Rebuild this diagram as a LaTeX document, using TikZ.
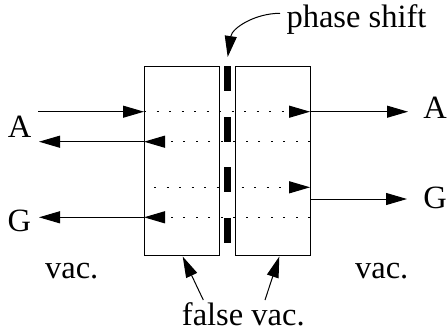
\documentclass[tikz,border=0pt]{standalone}
\usepackage{fontspec}
\setmainfont{Liberation Serif}
\usetikzlibrary{arrows.meta}
\begin{document}
\begin{tikzpicture}[x=1pt,y=-1pt,
  lbl/.style={inner sep=0pt,anchor=base,font=\fontsize{32.5}{32.5}\selectfont},
  slab/.style={draw,line width=1.1pt,minimum width=75.3pt,minimum height=189.3pt,inner sep=0pt,anchor=north west},
  barpiece/.style={fill=black,minimum width=7.4pt,minimum height=25pt,inner sep=0pt,anchor=north west},
  tip/.style={-{Triangle[length=21pt,width=12pt]}},
  solidln/.style={line width=1pt,tip},
  dotln/.style={line width=1.1pt,dash pattern=on 2pt off 10.5pt,tip}]
\useasboundingbox (0,0) rectangle (447,333);
% boxes
\node[slab] (L) at (144,66) {};
\node[slab] (R) at (234.8,66) {};
% phase shift bars
\node[barpiece] (b1) at (223.3,66) {};
\node[barpiece] (b2) at (223.3,117) {};
\node[barpiece] (b3) at (223.3,167) {};
\node[barpiece] (b4) at (223.3,217.5) {};
% labels
\node[lbl] (ps) at (356.5,27.3) {phase shift};
\node[lbl] (Al) at (19.5,137.3) {A};
\node[lbl] (Gl) at (19.3,231.7) {G};
\node[lbl] (Ar) at (435,118.3) {A};
\node[lbl] (Gr) at (435,208.3) {G};
\node[lbl] (v1) at (71.7,278.3) {vac.};
\node[lbl] (v2) at (381.7,278.3) {vac.};
\node[lbl] (fv) at (243.3,325) {false vac.};
% coordinates
\coordinate (a1) at (38,111.7);
\coordinate (a2) at (144,111.7);
\coordinate (a3) at (310.1,111.7);
\coordinate (a4) at (408,111.7);
\coordinate (r1) at (310.1,141.7);
\coordinate (r2) at (144,141.7);
\coordinate (r3) at (39,141.7);
\coordinate (g1) at (154,187.3);
\coordinate (g2) at (310.1,187.3);
\coordinate (g3) at (310.1,199);
\coordinate (g4) at (407,199);
\coordinate (h1) at (310.1,217.3);
\coordinate (h2) at (144,217.3);
\coordinate (h3) at (39,217.3);
\coordinate (p0) at (280,13.3);
\coordinate (p1) at (227.7,57);
\coordinate (f1) at (203.3,300);
\coordinate (f2) at (182.7,256.5);
\coordinate (f3) at (265,300);
\coordinate (f4) at (279.3,256.5);
% arrows
\draw[solidln] (a1) -- (a2);
\draw[dotln] (a2) -- (a3);
\draw[solidln] (a3) -- (a4);
\draw[dotln] (r1) -- (r2);
\draw[solidln] (r2) -- (r3);
\draw[dotln] (g1) -- (g2);
\draw[solidln] (g3) -- (g4);
\draw[dotln] (h1) -- (h2);
\draw[solidln] (h2) -- (h3);
\draw[solidln] (p0) .. controls (255,13.3) and (232,28) .. (p1);
\draw[solidln] (f1) -- (f2);
\draw[solidln] (f3) -- (f4);
\end{tikzpicture}
\end{document}
